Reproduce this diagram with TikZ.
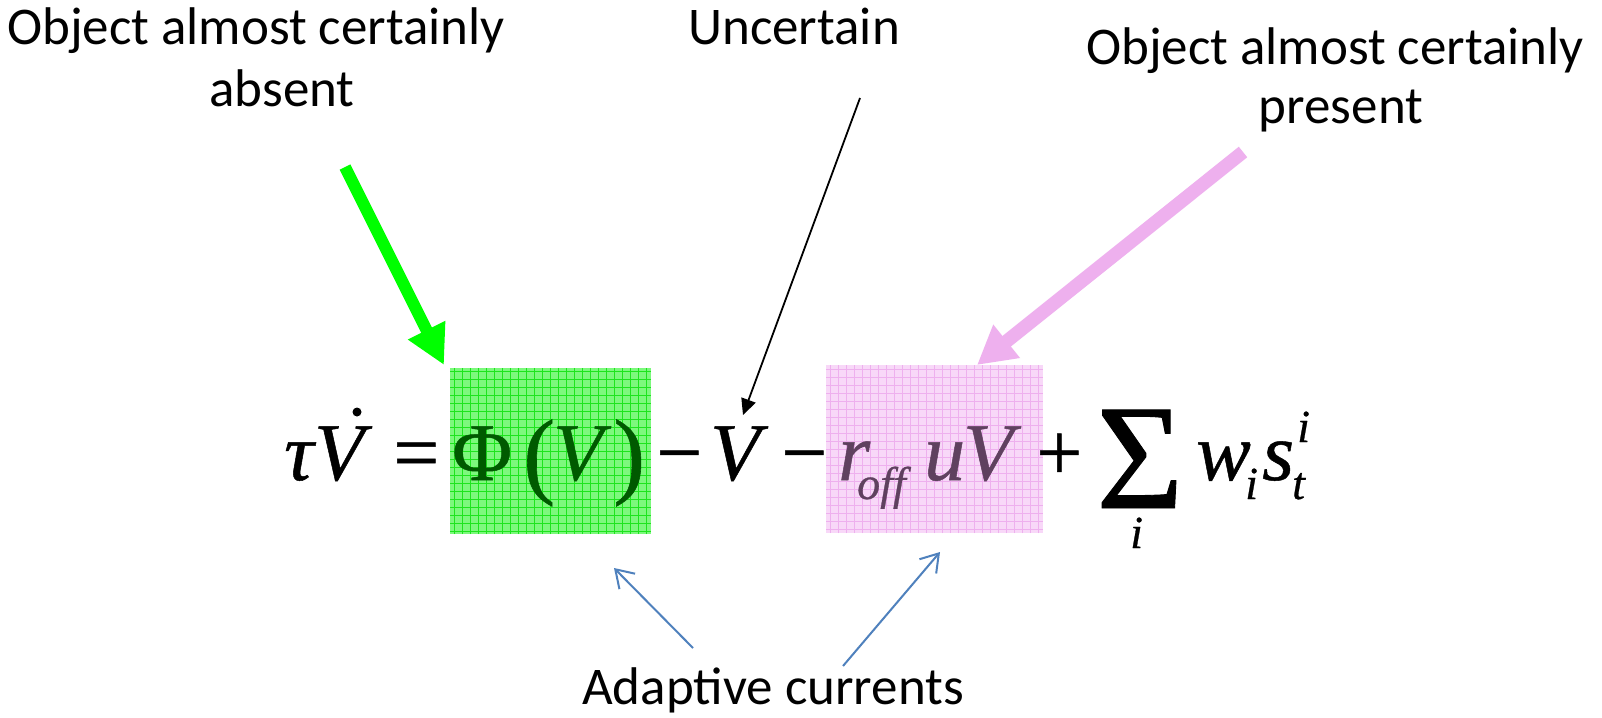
\documentclass[tikz,border=0pt]{standalone}
\usepackage{fontspec}
\setmainfont{Carlito}
\newfontface\eqf{Liberation Serif}[FakeBold=0.6]
\newfontface\eqfi{Liberation Serif Italic}[FakeBold=0.6]
\usetikzlibrary{arrows.meta}
\definecolor{arrgreen}{RGB}{0,255,0}
\definecolor{arrpink}{RGB}{238,176,238}
\definecolor{boxgreen}{RGB}{125,248,125}
\definecolor{gridgreen}{RGB}{30,228,30}
\definecolor{boxpink}{RGB}{248,216,248}
\definecolor{gridpink}{RGB}{238,176,238}
\definecolor{txtgreen}{RGB}{0,90,0}
\definecolor{txtpink}{RGB}{95,65,95}
\definecolor{arrblue}{RGB}{79,129,189}
\tikzset{
  lbl/.style={font=\fontsize{53}{60}\selectfont, anchor=base, inner sep=0pt},
  eq/.style={font=\eqf\fontsize{82}{90}\selectfont, anchor=base west, inner sep=0pt},
  eqi/.style={eq, font=\eqfi\fontsize{82}{90}\selectfont},
  eqs/.style={eq, font=\eqfi\fontsize{46}{50}\selectfont},
  paren/.style={eq, font=\eqf\fontsize{96}{110}\selectfont},
  gridbox/.style 2 args={draw=none, fill=#1, inner sep=0pt,
    path picture={\draw[#2, line width=0.7pt, step=8pt]
      (path picture bounding box.south west) grid (path picture bounding box.north east);}},
  fatgreen/.style={arrgreen, line width=12pt, -{Triangle[length=39pt,width=39pt]}},
  fatpink/.style={arrpink, line width=13.5pt, -{Triangle[length=38pt,width=40pt]}},
  thinblack/.style={black, line width=1.8pt, -{Triangle[length=16pt,width=15pt]}},
  thinblue/.style={arrblue, line width=2pt, -{Straight Barb[length=17pt,width=22pt]}}
}
\begin{document}
\begin{tikzpicture}[x=1pt,y=-1pt]
\useasboundingbox[fill=white] (0,0) rectangle (1602,717);
% boxes
\node[gridbox={boxgreen}{gridgreen}, minimum width=201pt, minimum height=166pt] (gbox) at (550.5,451) {};
\node[gridbox={boxpink}{gridpink}, minimum width=217pt, minimum height=168pt] (pbox) at (934.5,449) {};
% equation
\node[eqi] (tau) at (284,480) {τ};
\node[eqi] (v1) at (314,480) {V};
\fill (357,412) circle (4.5pt);
\node[eq] (eq1) at (393,480) {=};
\node[eq, text=txtgreen] (phi) at (452,480) {Φ};
\node[paren, text=txtgreen] (lp) at (523,486) {(};
\node[eqi, text=txtgreen] (v2) at (553,480) {V};
\node[paren, text=txtgreen] (rp) at (613,486) {)};
\node[eq] (m1) at (656,480) {−};
\node[eqi] (v3) at (710,480) {V};
\node[eq] (m2) at (781,480) {−};
\node[eqi, text=txtpink] (r) at (838,480) {r};
\node[eqs, text=txtpink] (off) at (857,499) {off};
\node[eqi, text=txtpink] (u) at (924,480) {u};
\node[eqi, text=txtpink] (v4) at (963,480) {V};
\node[eq] (plus) at (1036,480) {+};
\node[eq, font=\eqf\fontsize{150}{160}\selectfont] (sum) at (1096,508) {Σ};
\node[eqs] (isum) at (1130,548) {i};
\node[eqi] (w) at (1196,480) {w};
\node[eqs] (wi) at (1245,499) {i};
\node[eqi] (s) at (1262,480) {s};
\node[eqs] (st) at (1292,499) {t};
\node[eqs] (si) at (1297,442) {i};
% labels
\node[lbl] (l1) at (256,45) {Object almost certainly};
\node[lbl] (l2) at (282,106) {absent};
\node[lbl] (unc) at (794,45) {Uncertain};
\node[lbl] (r1) at (1335,64) {Object almost certainly};
\node[lbl] (r2) at (1341,123) {present};
\node[lbl] (ad) at (773,704) {Adaptive currents};
% arrow ends
\coordinate (gs) at (345,167);
\coordinate (gt) at (444,365);
\coordinate (ps) at (1243,152);
\coordinate (pt) at (977,365);
\coordinate (us) at (860,98);
\coordinate (ut) at (743,415);
\coordinate (bls) at (693,648);
\coordinate (blt) at (614,568);
\coordinate (brs) at (843,666);
\coordinate (brt) at (940,552);
\draw[fatgreen] (gs) -- (gt);
\draw[fatpink] (ps) -- (pt);
\draw[thinblack] (us) -- (ut);
\draw[thinblue] (bls) -- (blt);
\draw[thinblue] (brs) -- (brt);
\end{tikzpicture}
\end{document}
